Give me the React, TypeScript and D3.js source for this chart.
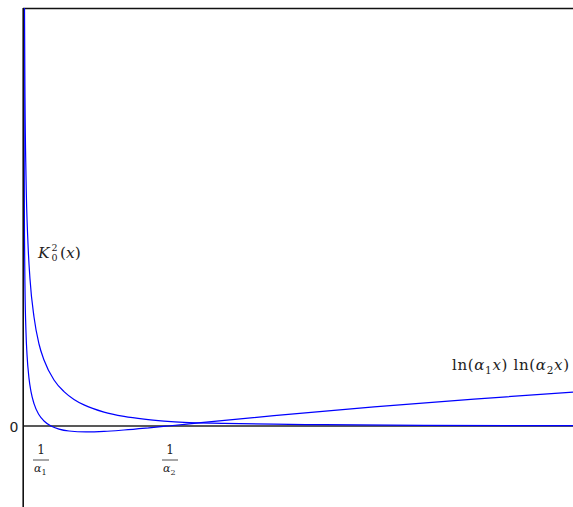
import React, { useEffect, useRef } from 'react';
import * as d3 from 'd3';

// x: distance from the vertical axis, y: height above the zero line
const k0Curve: [number, number][] = [
  [0.004, 44.9], [0.005, 41.8], [0.01, 32.8], [0.02, 25.0], [0.04, 18.2], [0.06, 14.7],
  [0.1, 10.9], [0.15, 8.2], [0.2, 6.6], [0.3, 4.6], [0.4, 3.44], [0.5, 2.66], [0.6, 2.11],
  [0.8, 1.39], [1.0, 0.96], [1.2, 0.68], [1.4, 0.49], [1.6, 0.36], [2.0, 0.27], [2.5, 0.18],
  [3.0, 0.13], [4.0, 0.07], [5.49, 0.03],
];
const lnCurve: [number, number][] = [
  [0.0005, 42.1], [0.001, 34.2], [0.002, 27.1], [0.005, 19.0], [0.01, 13.76], [0.02, 9.35],
  [0.03, 7.15], [0.05, 4.76], [0.07, 3.43], [0.1, 2.23], [0.15, 1.12], [0.2, 0.5], [0.27, 0],
  [0.35, -0.31], [0.45, -0.5], [0.62, -0.59], [0.8, -0.54], [1.0, -0.4], [1.25, -0.18],
  [1.44, 0], [1.77, 0.33], [2.5, 1.03], [3.5, 1.91], [4.5, 2.69], [5.49, 3.39],
];
const yTicks = [0];
const alphaTicks = [{ x: 0.17, sub: '1' }, { x: 1.46, sub: '2' }];

const W = 573;
const H = 507;
const serif = 'DejaVu Serif, Liberation Serif, serif';

export default function App() {
  const ref = useRef<SVGSVGElement>(null);

  useEffect(() => {
    const svg = d3.select(ref.current);
    svg.selectAll('*').remove();

    const x = d3.scaleLinear().domain([0, 5.49]).range([24, W]);
    const y = d3.scaleLinear().domain([-8.1, 41.8]).range([H, 8]);

    svg.append('clipPath').attr('id', 'plot')
      .append('rect').attr('x', 23).attr('y', 8).attr('width', W - 23).attr('height', H - 8);

    // frame top + zero line
    svg.append('line')
      .attr('x1', 23).attr('x2', W).attr('y1', 8.6).attr('y2', 8.6)
      .attr('stroke', '#111').attr('stroke-width', 1.5);
    svg.append('line')
      .attr('x1', 23).attr('x2', W).attr('y1', y(0)).attr('y2', y(0))
      .attr('stroke', '#222').attr('stroke-width', 1.3);

    const line = d3.line<[number, number]>()
      .x(d => x(d[0]))
      .y(d => y(d[1]))
      .curve(d3.curveMonotoneX);

    const g = svg.append('g').attr('clip-path', 'url(#plot)');
    [k0Curve, lnCurve].forEach(c => {
      g.append('path')
        .attr('d', line(c))
        .attr('fill', 'none')
        .attr('stroke', '#0000ff')
        .attr('stroke-width', 1.2);
    });

    // vertical axis
    svg.append('line')
      .attr('x1', 23.2).attr('x2', 23.2).attr('y1', 8).attr('y2', H)
      .attr('stroke', '#111').attr('stroke-width', 1.6);

    svg.selectAll('text.ytick')
      .data(yTicks)
      .enter().append('text')
        .attr('class', 'ytick')
        .attr('x', 18.5)
        .attr('y', d => y(d) + 5.5)
        .attr('text-anchor', 'end')
        .attr('font-family', 'DejaVu Sans, sans-serif')
        .attr('font-size', 14)
        .attr('fill', '#222')
        .text(d => d);

    // 1/alpha labels under the axis
    alphaTicks.forEach(t => {
      const cx = x(t.x);
      svg.append('text')
        .attr('x', cx).attr('y', 454)
        .attr('text-anchor', 'middle')
        .attr('font-family', serif).attr('font-size', 12)
        .attr('fill', '#222')
        .text('1');
      svg.append('line')
        .attr('x1', cx - 8).attr('x2', cx + 8).attr('y1', 460).attr('y2', 460)
        .attr('stroke', '#222').attr('stroke-width', 0.8);
      const a = svg.append('text')
        .attr('x', cx - 7).attr('y', 472)
        .attr('font-family', serif).attr('font-size', 11)
        .attr('fill', '#222');
      a.append('tspan').attr('font-style', 'italic').text('α');
      a.append('tspan').attr('dy', 2.5).attr('font-size', 8).text(t.sub);
    });

    // K_0^2(x), indices stacked
    const k = svg.append('text')
      .attr('x', 38).attr('y', 258)
      .attr('font-family', serif).attr('font-size', 15.5)
      .attr('fill', '#222');
    k.append('tspan').attr('font-style', 'italic').text('K');
    k.append('tspan').attr('x', 51.5).attr('dy', -7.5).attr('font-size', 9.5).text('2');
    k.append('tspan').attr('x', 51.5).attr('dy', 10.5).attr('font-size', 9.5).text('0');
    k.append('tspan').attr('x', 60).attr('dy', -3).text('(');
    k.append('tspan').attr('font-style', 'italic').text('x');
    k.append('tspan').text(')');

    // ln(α1 x) ln(α2 x)
    const ln = svg.append('text')
      .attr('x', 452).attr('y', 370)
      .attr('textLength', 117)
      .attr('font-family', serif).attr('font-size', 15)
      .attr('fill', '#222');
    ['1', '2'].forEach((s, i) => {
      ln.append('tspan').text(i === 0 ? 'ln(' : ') ln(');
      ln.append('tspan').attr('font-style', 'italic').text('α');
      ln.append('tspan').attr('dy', 3.5).attr('font-size', 10.5).text(s);
      ln.append('tspan').attr('dy', -3.5).attr('font-style', 'italic').text('x');
    });
    ln.append('tspan').text(')');
  }, []);

  return (
    <div>
      <svg
        ref={ref}
        width={W}
        height={H}
        style={{ position: 'absolute', left: 0, top: 0, display: 'block', background: '#fff' }}
      />
    </div>
  );
}
